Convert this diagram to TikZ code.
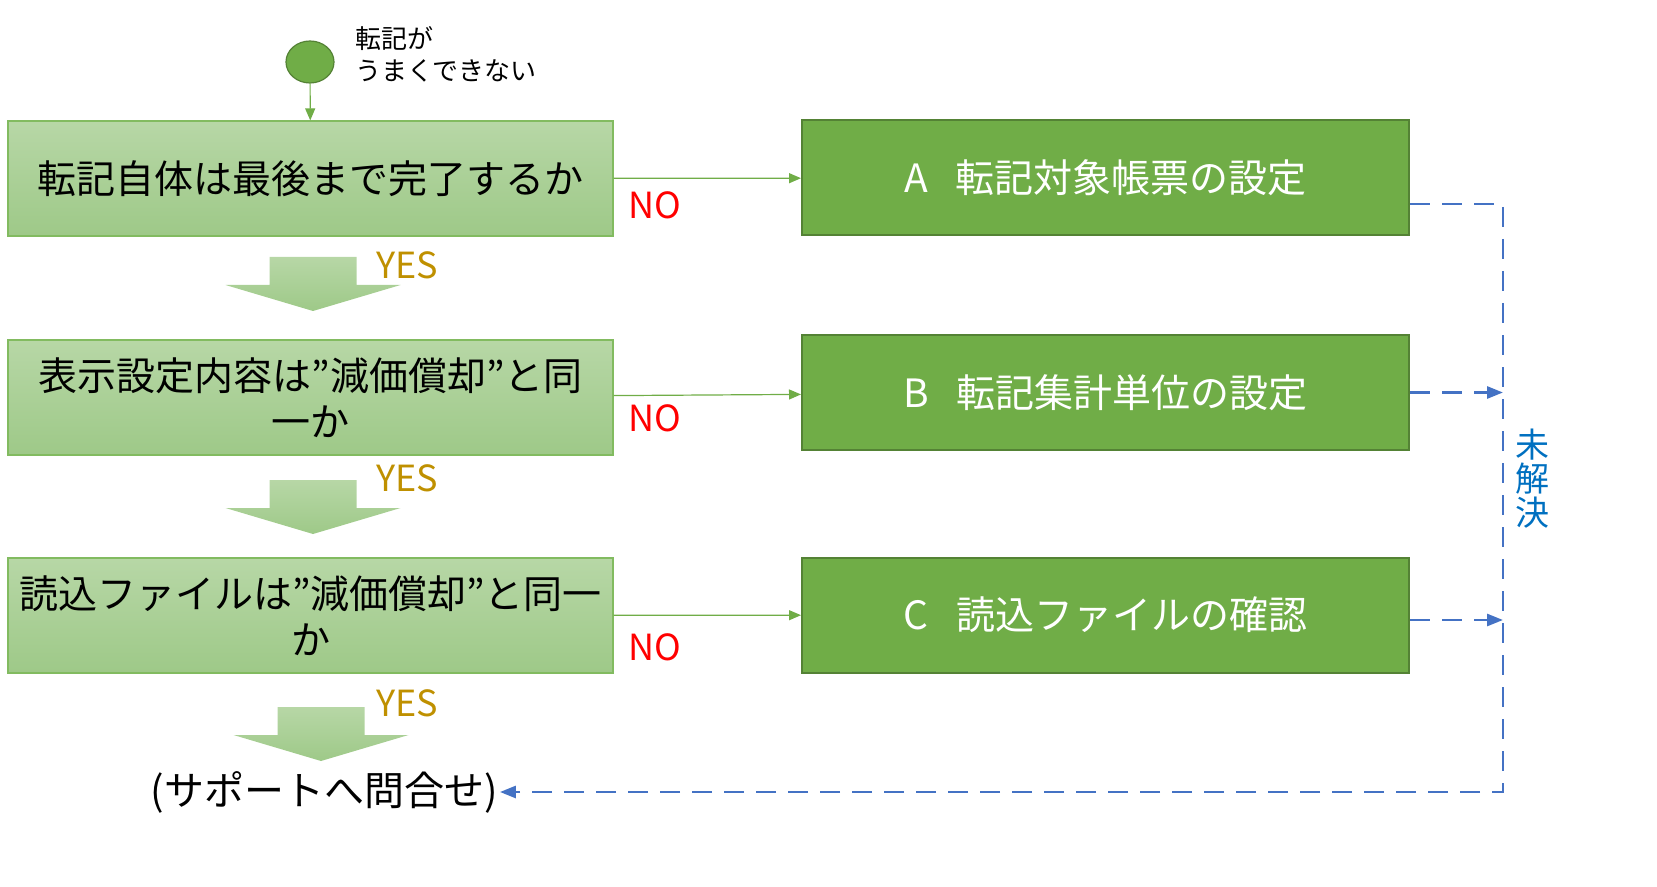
\documentclass[tikz,border=0pt]{standalone}
\usepackage{fontspec}
\setmainfont{Noto Sans CJK JP}
\usepackage{tikz}
\usetikzlibrary{arrows.meta,shapes.geometric}

\definecolor{qtop}{RGB}{183,215,166}
\definecolor{qbot}{RGB}{158,201,136}
\definecolor{qline}{RGB}{130,187,96}
\definecolor{stepfill}{RGB}{112,173,71}
\definecolor{stepline}{RGB}{84,130,53}
\definecolor{loopblue}{RGB}{68,114,196}
\definecolor{openblue}{RGB}{0,112,192}
\definecolor{yesgold}{RGB}{191,144,0}

\tikzset{
  question/.style={draw=qline,line width=0.6pt,top color=qtop,bottom color=qbot,
    minimum width=302.5pt,minimum height=57.5pt,align=center,
    font=\fontsize{19.5}{23}\selectfont},
  checkbox/.style={draw=stepline,line width=1pt,fill=stepfill,text=white,
    minimum width=303.5pt,minimum height=57.5pt,
    font=\fontsize{19.5}{23}\selectfont},
  nolabel/.style={text=red,font=\fontsize{18}{20}\selectfont},
  yeslabel/.style={text=yesgold,font=\fontsize{18}{20}\selectfont},
  goon/.style={draw=stepfill,line width=0.6pt,-{Triangle[length=6pt,width=5pt]}},
  unsolved/.style={draw=loopblue,line width=1.4pt,dash pattern=on 10pt off 6pt}
}

\begin{document}
\begin{tikzpicture}[x=0.5pt,y=-0.5pt]
  \useasboundingbox (0,0) rectangle (1657,887);
  %start
  \node[ellipse,draw=stepline,line width=0.6pt,fill=stepfill,minimum width=24pt,minimum height=21pt] (start) at (310,62) {};
  \node[anchor=west,align=left,font=\fontsize{13}{16}\selectfont] (startlbl) at (348,54) {転記が\\うまくできない};
  % questions
  \node[question] (q1) at (310.5,178.5) {転記自体は最後まで完了するか};
  \node[question] (q2) at (310.5,397.5) {表示設定内容は”減価償却”と同\\一か};
  \node[question] (q3) at (310.5,615.5) {読込ファイルは”減価償却”と同一\\か};
  % checks
  \node[checkbox] (A) at (1105.5,178) {A\hspace{0.7em}転記対象帳票の設定};
  \node[checkbox] (B) at (1105.5,392.5) {B\hspace{0.7em}転記集計単位の設定};
  \node[checkbox] (C) at (1105.5,615) {C\hspace{0.7em}読込ファイルの確認};
  \node[font=\fontsize{20}{24}\selectfont,inner sep=1pt] (support) at (324,792) {(サポートへ問合せ)};
  \coordinate (topturn) at (1503,204);
  \coordinate (cturn) at (1503,620);
  \coordinate (botturn) at (1503,792);
  \node[text=openblue,align=center,font=\fontsize{17}{17}\selectfont] (open) at (1532,479) {未\\解\\決};

  \draw[goon] (start) -- (q1);
  \draw[goon] (q1) -- (A);
  \draw[goon] (q2) -- (B);
  \draw[goon] (q3) -- (C);
  \node[nolabel] (no1) at (655,205) {NO};
  \node[nolabel] (no2) at (655,418) {NO};
  \node[nolabel] (no3) at (655,647) {NO};

  % yes arrows
  \foreach \cx/\ty in {313/257,313/480,321/707}
    \shade[top color=qtop,bottom color=qbot] (\cx-43.5,\ty) -- ++(87,0) -- ++(0,28)
      -- ++(44,0) -- (\cx,\ty+54) -- (\cx-87.5,\ty+28) -- ++(44,0) -- cycle;
  \node[yeslabel] (yes1) at (407,265) {YES};
  \node[yeslabel] (yes2) at (407,478) {YES};
  \node[yeslabel] (yes3) at (407,703) {YES};

  % unsolved loop
  \draw[unsolved,-{Triangle[length=8pt,width=6pt]}] (A.east |- topturn) -- (topturn) -- (botturn) -- (support.east);
  \draw[unsolved,-{Triangle[length=8pt,width=6pt]}] (B.east) -- (B.east -| topturn);
  \draw[unsolved,-{Triangle[length=8pt,width=6pt]}] (C.east |- cturn) -- (cturn);
\end{tikzpicture}
\end{document}
